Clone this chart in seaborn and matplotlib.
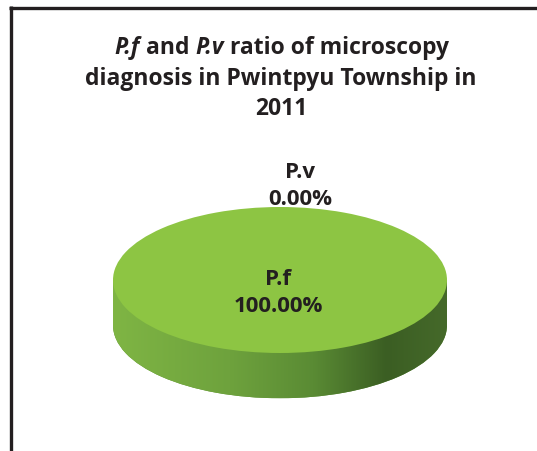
import numpy as np
import matplotlib
matplotlib.use("Agg")
import matplotlib.pyplot as plt
import seaborn as sns
from matplotlib.patches import Rectangle
from matplotlib.colors import LinearSegmentedColormap
from matplotlib.lines import Line2D

# Species share of positive slides
species = ["P.f", "P.v"]
shares = [100.0, 0.0]
title_line1 = [("P.f", "italic"), (" and ", "normal"), ("P.v", "italic"), (" ratio of microscopy", "normal")]
title_rest = ["diagnosis in Pwintpyu Township in", "2011"]

sns.set_theme(style="white")
plt.rcParams["font.family"] = ["Open Sans", "DejaVu Sans"]

W, H, DPI = 537, 451, 100
TXT = "#231f20"
TITLE_FS = 16.5
LABEL_FS = 16
fig = plt.figure(figsize=(W / DPI, H / DPI), dpi=DPI)

# frame lines (left and top)
fig.add_artist(Line2D([10.5 / W, 10.5 / W], [0, 1 - 6 / H], transform=fig.transFigure,
                      color=TXT, lw=2.4, solid_capstyle="butt"))
fig.add_artist(Line2D([9.3 / W, 1.0], [1 - 7.5 / H, 1 - 7.5 / H], transform=fig.transFigure,
                      color=TXT, lw=2.4, solid_capstyle="butt"))

# title, first line built from mixed italic / upright pieces
title_y = [48, 79, 109]
renderer = fig.canvas.get_renderer()
pieces, total = [], 0.0
for txt, style in title_line1:
    t = fig.text(0, 0, txt, fontsize=TITLE_FS, fontweight="bold", fontstyle=style)
    w = t.get_window_extent(renderer).width
    t.remove()
    pieces.append((txt, style, w))
    total += w
x0 = 282 - total / 2
for txt, style, w in pieces:
    fig.text(x0 / W, 1 - title_y[0] / H, txt, ha="left", va="center", fontsize=TITLE_FS,
             fontweight="bold", fontstyle=style, color=TXT)
    x0 += w
for ln, yy in zip(title_rest, title_y[1:]):
    fig.text(281 / W, 1 - yy / H, ln, ha="center", va="center", fontsize=TITLE_FS,
             fontweight="bold", color=TXT)

# pie axes: ellipse centre at (280, 280) px, radii 167 x 73 px
cx, cy, rx, ry = 280, 280, 167, 73
xlim = (-1.2, 1.2)
ylim = (-1.8, 1.2)
left = cx + xlim[0] * rx
bottom = (H - cy) + ylim[0] * ry
ax = fig.add_axes([left / W, bottom / H, (xlim[1] - xlim[0]) * rx / W, (ylim[1] - ylim[0]) * ry / H])

depth = 0.62
top_color = "#8dc543"

# side of the disc
side_wedges, _ = ax.pie(shares, startangle=90, counterclock=False, center=(0, -depth),
                        colors=["#5f9236", "#5f9236"], wedgeprops=dict(linewidth=0, zorder=1))
rect = Rectangle((-1, -depth), 2, depth, facecolor="#5f9236", linewidth=0, zorder=1)
ax.add_patch(rect)

cmap = LinearSegmentedColormap.from_list(
    "side", [(0.0, "#7fb544"), (0.35, "#6ea23d"), (0.6, "#5a8b34"),
             (0.82, "#3b5e23"), (1.0, "#45692a")])
grad = np.linspace(0, 1, 256).reshape(1, -1)
for clip in (side_wedges[0], rect):
    im = ax.imshow(grad, cmap=cmap, extent=(-1, 1, -depth - 1, 0), aspect="auto",
                   zorder=2, interpolation="bilinear")
    im.set_clip_path(clip)

# top face
top_wedges, _ = ax.pie(shares, startangle=90, counterclock=False, center=(0, 0),
                       colors=[top_color, top_color], wedgeprops=dict(linewidth=0, zorder=3))

ax.set_aspect("auto")
ax.set_xlim(*xlim)
ax.set_ylim(*ylim)
ax.axis("off")

# data labels
label_pos = {"P.f": (-0.01, -0.18), "P.v": (0.12, 1.29)}
for name, val in zip(species, shares):
    x, y = label_pos[name]
    ax.text(x, y, f"{name}\n{val:.2f}%", ha="center", va="center", fontsize=LABEL_FS,
            fontweight="bold", color=TXT, linespacing=1.35, zorder=5)

fig.savefig("out.png", dpi=DPI)
